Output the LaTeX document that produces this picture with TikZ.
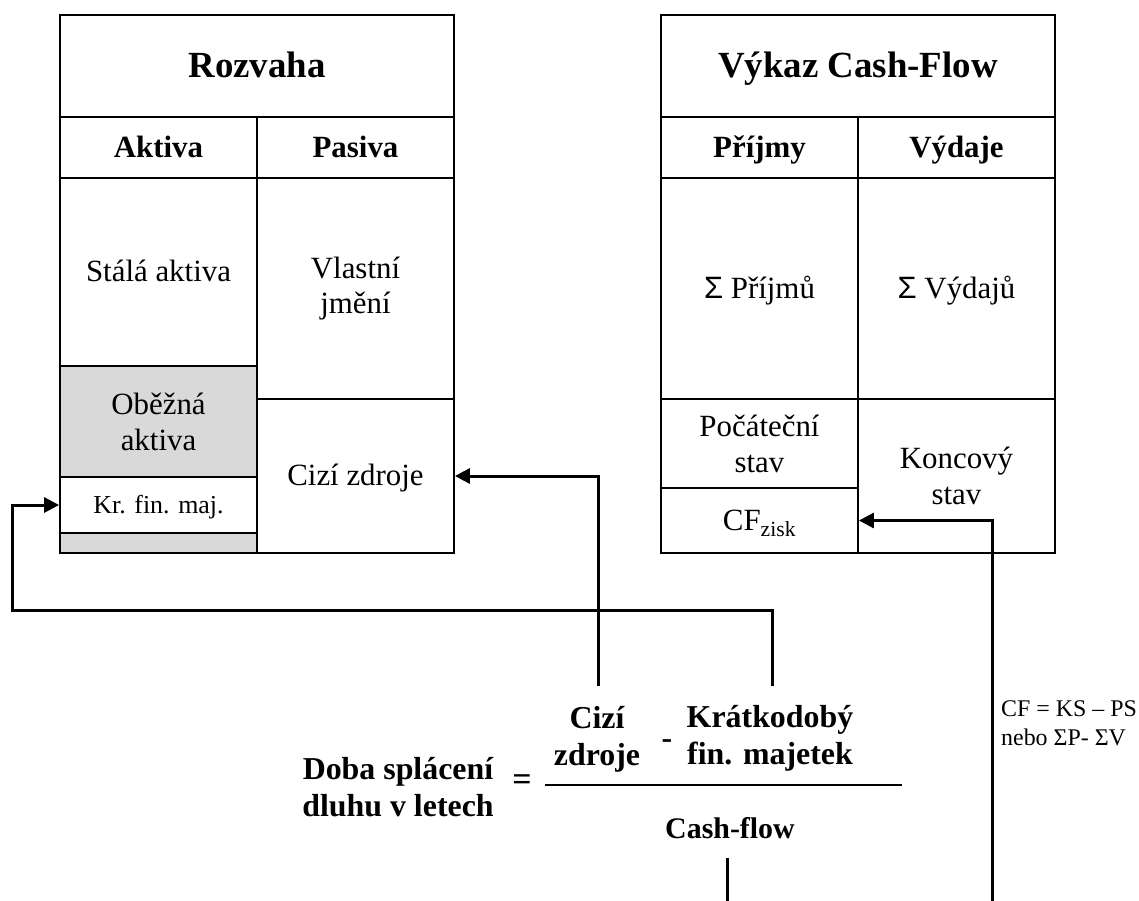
\documentclass[tikz,border=0pt]{standalone}
\usepackage{fontspec}
\setmainfont{Liberation Serif}
\newfontfamily\sigmafont{Liberation Sans}
\usetikzlibrary{arrows.meta}
\definecolor{oblast}{HTML}{D9D9D9}
% keeps single-line cells on a common baseline
\newcommand{\radek}{\vphantom{Ájg}}
\begin{document}
\begin{tikzpicture}[x=1bp,y=-1bp,
  cell/.style={draw, line width=1.8bp, inner sep=0pt, align=center,
    font=\fontsize{31}{36}\selectfont},
  headcell/.style={cell, font=\bfseries\fontsize{31}{36}\selectfont},
  titlecell/.style={cell, font=\bfseries\fontsize{37}{42}\selectfont},
  halfw/.style={minimum width=197bp},
  fullw/.style={minimum width=394bp},
  hgt/.style={minimum height=#1bp},
  formula/.style={inner sep=0pt, align=center, font=\bfseries\fontsize{32}{37}\selectfont},
  conn/.style={line width=3bp, -{Triangle[length=15bp,width=15bp]}},
  stub/.style={line width=3bp},
]
\useasboundingbox (0,0) rectangle (1139,901);

% --- Rozvaha (balance sheet) ---
\node[titlecell, fullw, hgt=102] (rozvaha) at (257,66) {\radek Rozvaha};
\node[headcell, halfw, hgt=61] (aktiva) at (158.5,147.5) {\radek Aktiva};
\node[headcell, halfw, hgt=61] (pasiva) at (355.5,147.5) {\radek Pasiva};
\node[cell, halfw, hgt=188] (stala) at (158.5,272) {\radek Stálá aktiva};
\node[cell, halfw, hgt=111, fill=oblast] (obezna) at (158.5,421.5) {Oběžná\\aktiva};
\node[cell, halfw, hgt=56, font=\fontsize{26}{30}\selectfont] (krfin) at (158.5,505) {\radek Kr. fin. maj.};
\node[cell, halfw, hgt=20, fill=oblast] (zbytek) at (158.5,543) {};
\node[cell, halfw, hgt=221] (vlastni) at (355.5,288.5) {Vlastní\\jmění};
\node[cell, halfw, hgt=154] (cizi) at (355.5,476) {\radek Cizí zdroje};

% --- Výkaz Cash-Flow ---
\node[titlecell, fullw, hgt=102] (vykaz) at (858,66) {\radek Výkaz Cash-Flow};
\node[headcell, halfw, hgt=61] (prijmy) at (759.5,147.5) {\radek Příjmy};
\node[headcell, halfw, hgt=61] (vydaje) at (956.5,147.5) {\radek Výdaje};
\node[cell, halfw, hgt=221] (sump) at (759.5,288.5) {\radek{\sigmafont Σ} Příjmů};
\node[cell, halfw, hgt=221] (sumv) at (956.5,288.5) {\radek{\sigmafont Σ} Výdajů};
\node[cell, halfw, hgt=89] (pocatecni) at (759.5,443.5) {Počáteční\\stav};
\node[cell, halfw, hgt=65] (cfzisk) at (759.5,520.5) {\radek CF\textsubscript{zisk}};
\node[cell, halfw, hgt=154] (koncovy) at (956.5,476) {Koncový\\stav};

% --- formula ---
\node[formula] (doba) at (398,787) {Doba splácení\\dluhu v letech};
\node[inner sep=0pt, font=\bfseries\fontsize{34}{36}\selectfont] (rovno) at (522,783) {=};
\node[formula] (cizizdroje) at (597,739) {Cizí\\zdroje};
\node[formula] (minus) at (667,744) {-};
\node[formula] (kratko) at (770,738) {Krátkodobý\\fin. majetek};
\node[formula, font=\bfseries\fontsize{30}{36}\selectfont] (cashflow) at (730,828) {Cash-flow};
\node[inner sep=0pt, anchor=west, align=left, font=\fontsize{24}{29}\selectfont] (cfnote) at (1001,723)
  {CF = KS – PS\\nebo ΣP- ΣV};

% fraction bar
\coordinate (zlomL) at (545,785);
\coordinate (zlomR) at (902,785);
\draw[line width=2bp] (zlomL) -- (zlomR);

% --- connectors ---
\coordinate (zdrojeTop) at (598,686);
\coordinate (kratTop) at (772,686);
\coordinate (ohyb) at (12,610);
\coordinate (cfDole) at (992,901);
\coordinate (cashTop) at (727,858);
\coordinate (cashDole) at (727,901);

\draw[conn] (zdrojeTop) |- (cizi.east);
\draw[conn] (kratTop) |- (ohyb) |- (krfin.west);
\draw[conn] (cfDole) |- (cfzisk.east);
\draw[stub] (cashTop) -- (cashDole);
\end{tikzpicture}
\end{document}
